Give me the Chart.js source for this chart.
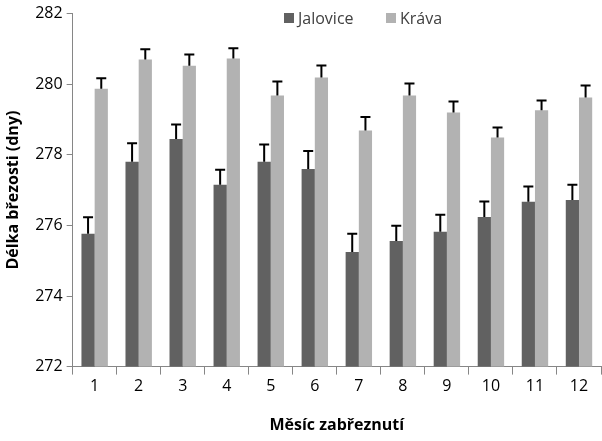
<!DOCTYPE html>
<html><head><meta charset="utf-8">
<script src="https://cdn.jsdelivr.net/npm/chart.js@4"></script>
<style>html,body{margin:0;padding:0;background:#fff}</style>
</head><body><canvas id="c" width="602" height="441"></canvas>
<script>
const categories=['1','2','3','4','5','6','7','8','9','10','11','12'];
const jalovice=[275.76,277.80,278.45,277.15,277.80,277.60,275.25,275.56,275.82,276.24,276.67,276.72];
const jaloviceErr=[0.47,0.53,0.41,0.43,0.49,0.51,0.51,0.43,0.48,0.44,0.43,0.43];
const krava=[279.87,280.70,280.52,280.73,279.68,280.19,278.69,279.68,279.20,278.49,279.26,279.62];
const kravaErr=[0.30,0.29,0.32,0.29,0.40,0.34,0.38,0.34,0.31,0.28,0.28,0.34];
const yTicks=[272,274,276,278,280,282];
const F='"Open Sans", "Liberation Sans", sans-serif';
const errPlugin={id:'err',afterDatasetsDraw(chart){
  const ctx=chart.ctx,y=chart.scales.y;
  [jaloviceErr,kravaErr].forEach((errs,di)=>{
    const meta=chart.getDatasetMeta(di);
    meta.data.forEach((bar,i)=>{
      const v=chart.data.datasets[di].data[i];
      const y0=y.getPixelForValue(v),y1=y.getPixelForValue(v+errs[i]);
      ctx.save();ctx.strokeStyle='#000';ctx.lineWidth=2;
      ctx.beginPath();ctx.moveTo(bar.x,y0);ctx.lineTo(bar.x,y1);
      ctx.moveTo(bar.x-5,y1);ctx.lineTo(bar.x+5,y1);ctx.stroke();ctx.restore();
    });
  });
  ctx.save();ctx.font='16px '+F;ctx.textBaseline='middle';
  const items=[['Jalovice','#616161',284],['Kráva','#b2b2b2',386]];
  items.forEach(([t,c,x])=>{ctx.fillStyle=c;ctx.fillRect(x,13,10,10);ctx.fillStyle='#404040';ctx.fillText(t,x+14,19);});
  ctx.restore();
}};
new Chart(document.getElementById('c'),{
  type:'bar',
  data:{labels:categories,datasets:[
    {label:'Jalovice',data:jalovice,backgroundColor:'#616161'},
    {label:'Kráva',data:krava,backgroundColor:'#b2b2b2'}]},
  options:{responsive:false,animation:false,devicePixelRatio:1,
    layout:{padding:{top:7,right:1,left:0,bottom:2}},
    datasets:{bar:{categoryPercentage:0.6,barPercentage:1}},
    plugins:{legend:{display:false},tooltip:{enabled:false}},
    scales:{
      x:{grid:{offset:true,drawOnChartArea:false,color:'#868686',tickLength:8},border:{color:'#868686'},
         ticks:{color:'#000',font:{family:F,size:16},padding:2},
         title:{display:true,text:'Měsíc zabřeznutí',font:{family:F,size:16,weight:'bold'},color:'#000',padding:{top:18}}},
      y:{min:272,max:282,afterBuildTicks(s){s.ticks=yTicks.map(v=>({value:v}));},
         grid:{drawOnChartArea:false,color:'#868686',tickLength:6},border:{color:'#868686'},
         ticks:{color:'#000',font:{family:F,size:16},padding:4},
         title:{display:true,text:'Délka březosti (dny)',font:{family:F,size:16,weight:'bold'},color:'#000',padding:{bottom:8}}}
    }},
  plugins:[errPlugin]
});
</script>
</body></html>
